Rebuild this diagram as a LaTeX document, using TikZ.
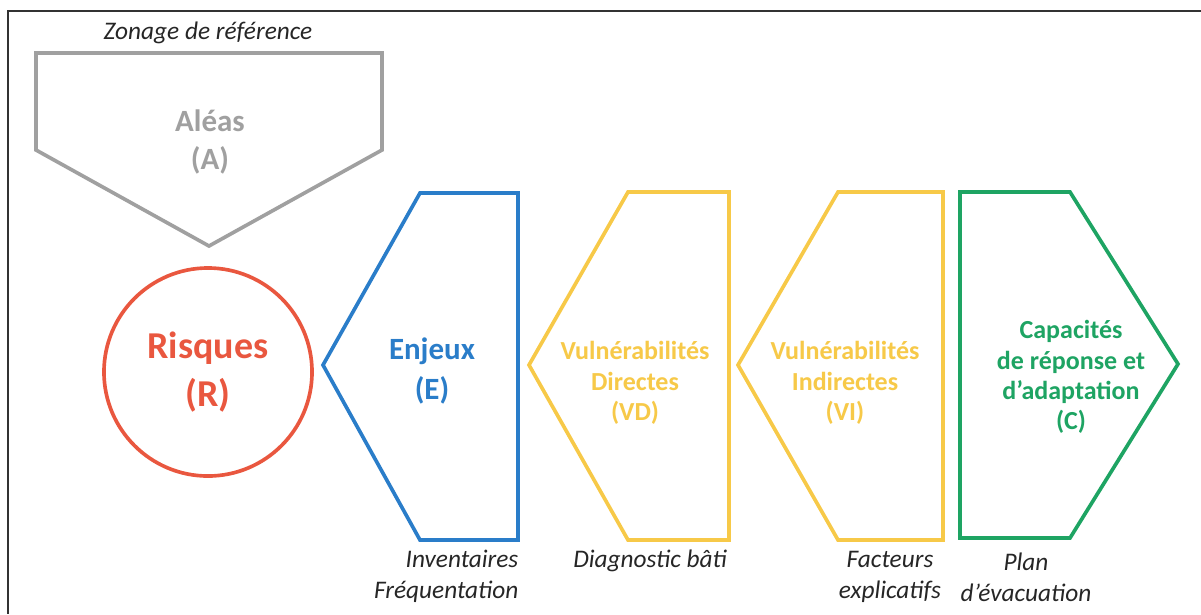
\documentclass[tikz,border=0pt]{standalone}
\usepackage{fontspec}
\setmainfont{Carlito}
\setsansfont{Carlito}
\usepackage{xcolor}
\usepackage{tikz}
\usetikzlibrary{positioning}
\definecolor{alea}{RGB}{160,160,160}
\definecolor{risk}{RGB}{233,87,63}
\definecolor{stake}{RGB}{42,125,201}
\definecolor{vuln}{RGB}{247,201,72}
\definecolor{capa}{RGB}{30,164,99}
\definecolor{frame}{RGB}{50,50,50}
\tikzset{
  box/.style={line width=2.6pt, line join=miter, fill=white},
  title/.style={font=\sffamily\bfseries, align=center},
  lbl/.style={font=\sffamily\itshape\fontsize{18}{22}\selectfont, text=black!85, align=center, inner sep=1pt}
}

\begin{document}
\begin{tikzpicture}[x=0.025cm, y=-0.025cm]
    \useasboundingbox (0,0) rectangle (1201,614);
    \draw[frame, line width=1.4pt] (1201,11) -- (8,11) -- (8,614);

    % alea
    \draw[box, draw=alea] (36,53) -- (382,53) -- (382,150) -- (209,246) -- (36,150) -- cycle;
    \node[title, text=alea, font=\sffamily\bfseries\fontsize{22}{27}\selectfont] (aleas) at (210,142) {Aléas\\(A)};
    \node[lbl] (zonage) at (208,33) {Zonage de référence};

    % risques
    \node[circle, draw=risk, line width=2.6pt, minimum size=5.2cm, inner sep=0pt] (risques) at (208,372) {};
    \node[title, text=risk, font=\sffamily\bfseries\fontsize{27}{34}\selectfont] (risquestxt) at (risques) {Risques\\(R)};

    % enjeux
    \draw[box, draw=stake] (323,365) -- (420,193) -- (518,193) -- (518,540) -- (420,540) -- cycle;
    \node[title, text=stake, font=\sffamily\bfseries\fontsize{22}{28}\selectfont] (enjeux) at (432,371) {Enjeux\\(E)};

    % vulnerabilites directes
    \draw[box, draw=vuln] (529,365) -- (628,192) -- (729,192) -- (729,540) -- (628,540) -- cycle;
    \node[title, text=vuln, font=\sffamily\bfseries\fontsize{18.5}{21.5}\selectfont] (vd) at (635,383) {Vulnérabilités\\Directes\\(VD)};

    % vulnerabilites indirectes
    \draw[box, draw=vuln] (738,365) -- (838,192) -- (943,192) -- (943,540) -- (838,540) -- cycle;
    \node[title, text=vuln, font=\sffamily\bfseries\fontsize{18.5}{21.5}\selectfont] (vi) at (845,383) {Vulnérabilités\\Indirectes\\(VI)};

    % capacites
    \draw[box, draw=capa] (960,192) -- (1070,192) -- (1178,364) -- (1070,538) -- (960,538) -- cycle;
    \node[title, text=capa, font=\sffamily\bfseries\fontsize{18.5}{21.5}\selectfont] (capacites) at (1071,377) {Capacités\\de réponse et\\d’adaptation\\(C)};

    % outils
    \node[lbl, align=right, anchor=north east] (inventaires) at (520,548) {Inventaires\\Fréquentation};
    \node[lbl] (diagnostic) at (650,561) {Diagnostic bâti};
    \node[lbl] (facteurs) at (890,577) {Facteurs\\explicatifs};
    \node[lbl] (plan) at (1026,577) {Plan\\d’évacuation};
\end{tikzpicture}
\end{document}
